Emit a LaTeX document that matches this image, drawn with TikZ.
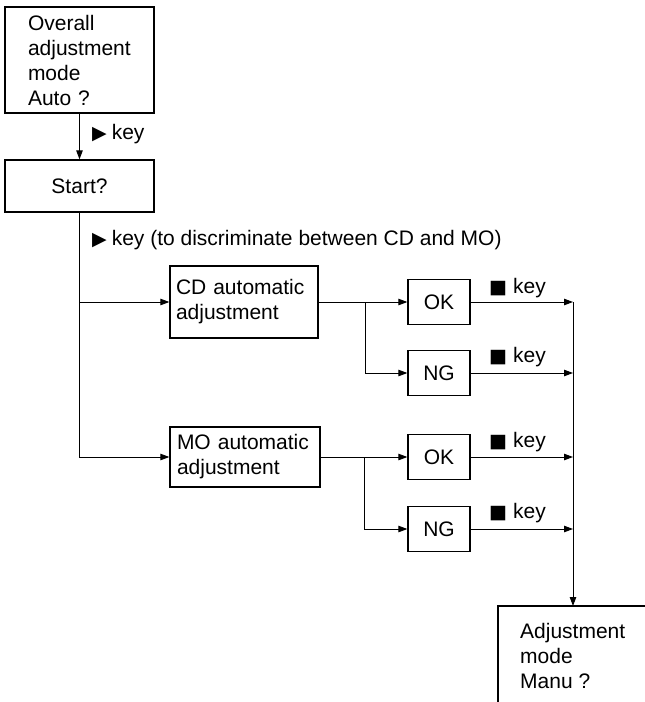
\documentclass[tikz,border=0pt]{standalone}
\usepackage{fontspec}
\setmainfont{Liberation Sans}
\newfontfamily\symfont{DejaVu Sans}
\usetikzlibrary{arrows.meta}
\newcommand{\tri}{{\symfont\fontsize{19}{19}\selectfont ▶}\hspace{5pt}}
\newcommand{\sq}{{\symfont\fontsize{19}{19}\selectfont ■}\hspace{6pt}}
\begin{document}
\begin{tikzpicture}[x=1pt,y=-1pt,
  every node/.style={font=\fontsize{21}{25}\selectfont},
  box/.style={draw, line width=1.3pt, inner sep=0pt, align=left},
  smallbox/.style={box, minimum width=62pt, minimum height=45pt},
  conn/.style={line width=0.9pt},
  arr/.style={conn, -{Triangle[length=9pt,width=6.5pt]}},
  lbl/.style={anchor=base west, inner sep=0pt}]
\useasboundingbox (0,0) rectangle (645,702);
\clip (0,0) rectangle (645,702);

% boxes
\node[box, minimum width=149pt, minimum height=106pt, text width=103pt] (b1) at (79.5,60) {Overall\\adjustment\\mode\\Auto ?};
\node[box, minimum width=149pt, minimum height=52pt] (st) at (79.5,186) {Start?};
\node[box, minimum width=148pt, minimum height=72pt, text width=136pt] (cd) at (244,302) {CD automatic\\adjustment};
\node[box, minimum width=150pt, minimum height=60pt, text width=136pt] (mo) at (245,457) {MO automatic\\adjustment};
\node[smallbox] (ok1) at (439,302) {OK};
\node[smallbox] (ng1) at (439,373) {NG};
\node[smallbox] (ok2) at (439,457) {OK};
\node[smallbox] (ng2) at (439,529) {NG};

% final (cut-off) box
\draw[line width=1.3pt] (498,720) -- (498,606) -- (660,606);
\coordinate (fintop) at (573,606);
\node[lbl, align=left] (fin) at (520,688) {Adjustment\\mode\\Manu ?};

% split and bus coordinates
\coordinate (s1) at (365,302);
\coordinate (s2) at (364,457);
\coordinate (bus) at (573,302);

% connectors
\draw[arr] (b1.south) -- (st.north);
\draw[arr] (st.south) |- (mo.west);
\draw[arr] (st.south |- cd.west) -- (cd.west);
\draw[arr] (cd.east) -- (ok1.west);
\draw[arr] (s1) |- (ng1.west);
\draw[arr] (mo.east) -- (ok2.west);
\draw[arr] (s2) |- (ng2.west);
\draw[arr] (ok1.east) -- (ok1.east -| bus);
\draw[arr] (ng1.east) -- (ng1.east -| bus);
\draw[arr] (ok2.east) -- (ok2.east -| bus);
\draw[arr] (ng2.east) -- (ng2.east -| bus);
\draw[arr] (bus) -- (fintop);

% labels
\node[lbl] (k0) at (92,139) {\tri key};
\node[lbl] (k1) at (92,245) {\tri key (to discriminate between CD and MO)};
\node[lbl] (k2) at (489,293) {\sq key};
\node[lbl] (k3) at (489,362) {\sq key};
\node[lbl] (k4) at (489,447) {\sq key};
\node[lbl] (k5) at (489,518) {\sq key};
\end{tikzpicture}
\end{document}
